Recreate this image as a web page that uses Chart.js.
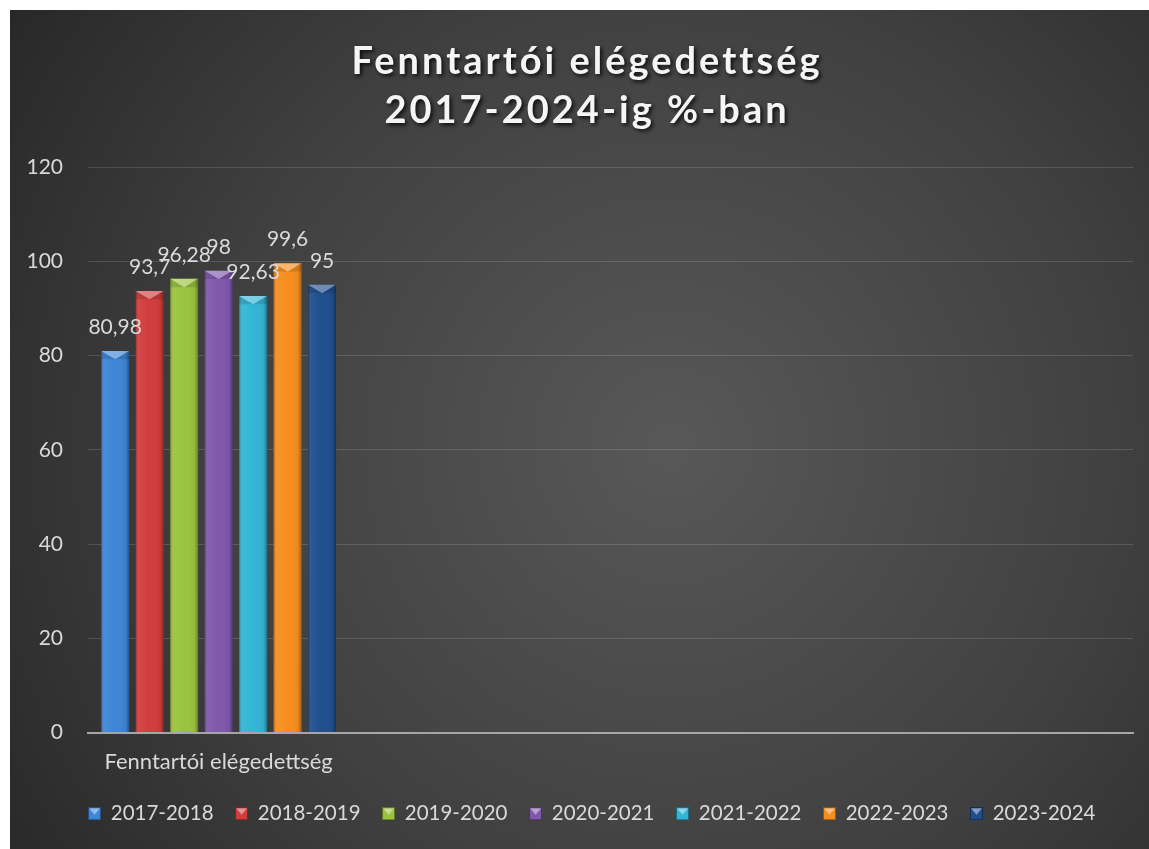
<!DOCTYPE html>
<html>
<head>
<meta charset="utf-8">
<script src="https://cdn.jsdelivr.net/npm/chart.js@4.4.1/dist/chart.umd.min.js"></script>
<style>
  html, body { margin: 0; padding: 0; background: #ffffff; }
  #wrap { position: absolute; left: 10px; top: 10px; width: 1139px; height: 839px; }
</style>
</head>
<body>
<div id="wrap"><canvas id="c"></canvas></div>
<script>
// ---- data ----
const titleLines = ['Fenntartói elégedettség', '2017-2024-ig %-ban'];
const categories = ['Fenntartói elégedettség', '', '', ''];
const seriesNames = ['2017-2018', '2018-2019', '2019-2020', '2020-2021', '2021-2022', '2022-2023', '2023-2024'];
const seriesValues = [80.98, 93.7, 96.28, 98, 92.63, 99.6, 95];
const seriesColors = ['#3d85d6', '#d23c3c', '#9bc33e', '#7f57ac', '#33b5d6', '#f68e1e', '#1f4e8c'];
const yTicks = { min: 0, max: 120, step: 20 };

const FONT = 'Lato, "Open Sans", sans-serif';
const TEXT = '#d9d9d9';

function fmt(v) { return String(v).replace('.', ','); }

function shade(hex, amt) {
  const n = parseInt(hex.slice(1), 16);
  let r = (n >> 16) & 255, g = (n >> 8) & 255, b = n & 255;
  const f = c => Math.max(0, Math.min(255, Math.round(amt < 0 ? c * (1 + amt) : c + (255 - c) * amt)));
  return 'rgb(' + f(r) + ',' + f(g) + ',' + f(b) + ')';
}

function legendIcon(color) {
  const s = 13, cv = document.createElement('canvas');
  cv.width = s; cv.height = s;
  const x = cv.getContext('2d');
  x.fillStyle = shade(color, -0.4); x.fillRect(0, 0, s, s);
  x.fillStyle = color; x.fillRect(1, 1, s - 2, s - 2);
  x.fillStyle = shade(color, 0.45);
  x.beginPath(); x.moveTo(1, 1); x.lineTo(s - 1, 1); x.lineTo(s / 2, s / 2 + 1); x.closePath(); x.fill();
  return cv;
}

const datasets = seriesNames.map((name, i) => ({
  label: name,
  data: [seriesValues[i]],
  backgroundColor: seriesColors[i],
  borderWidth: 0,
  categoryPercentage: 0.924,
  barPercentage: 0.81
}));

const bgPlugin = {
  id: 'bg',
  beforeDraw(chart) {
    const { ctx, width, height } = chart;
    ctx.save();
    const g = ctx.createRadialGradient(width * 0.58, height * 0.52, 0, width * 0.58, height * 0.52, width * 0.72);
    g.addColorStop(0, '#585858');
    g.addColorStop(0.55, '#404040');
    g.addColorStop(1, '#262626');
    ctx.fillStyle = g;
    ctx.fillRect(0, 0, width, height);
    // title
    ctx.font = 'bold 38px ' + FONT;
    ctx.textAlign = 'center';
    ctx.textBaseline = 'middle';
    if ('letterSpacing' in ctx) ctx.letterSpacing = '3px';
    ctx.shadowColor = 'rgba(0,0,0,0.85)';
    ctx.shadowBlur = 4;
    ctx.shadowOffsetX = 2;
    ctx.shadowOffsetY = 2;
    ctx.fillStyle = '#f5f5f5';
    ctx.fillText(titleLines[0], 577, 52);
    ctx.fillText(titleLines[1], 577, 101);
    ctx.restore();
  }
};

const bevelPlugin = {
  id: 'bevel',
  afterDatasetsDraw(chart) {
    const ctx = chart.ctx;
    ctx.save();
    chart.data.datasets.forEach((ds, di) => {
      const meta = chart.getDatasetMeta(di);
      meta.data.forEach(bar => {
        if (bar.skip) return;
        const { x, y, base, width } = bar;
        const l = x - width / 2, r = x + width / 2;
        const g = ctx.createLinearGradient(l, 0, r, 0);
        g.addColorStop(0, 'rgba(0,0,0,0.28)');
        g.addColorStop(0.12, 'rgba(255,255,255,0.06)');
        g.addColorStop(0.5, 'rgba(255,255,255,0)');
        g.addColorStop(0.88, 'rgba(0,0,0,0.05)');
        g.addColorStop(1, 'rgba(0,0,0,0.35)');
        ctx.fillStyle = g;
        ctx.fillRect(l, y, width, base - y);
        const h = width * 0.3;
        ctx.fillStyle = 'rgba(255,255,255,0.35)';
        ctx.beginPath();
        ctx.moveTo(l, y); ctx.lineTo(r, y); ctx.lineTo(x, y + h); ctx.closePath(); ctx.fill();
        ctx.fillStyle = 'rgba(0,0,0,0.12)';
        ctx.beginPath();
        ctx.moveTo(l, y); ctx.lineTo(x, y + h); ctx.lineTo(l, y + h); ctx.closePath(); ctx.fill();
        ctx.beginPath();
        ctx.moveTo(r, y); ctx.lineTo(x, y + h); ctx.lineTo(r, y + h); ctx.closePath(); ctx.fill();
      });
    });
    ctx.restore();
  }
};

const labelPlugin = {
  id: 'vlabels',
  afterDatasetsDraw(chart) {
    const ctx = chart.ctx;
    ctx.save();
    ctx.font = '21px ' + FONT;
    ctx.fillStyle = TEXT;
    ctx.textAlign = 'center';
    ctx.textBaseline = 'bottom';
    chart.data.datasets.forEach((ds, di) => {
      const meta = chart.getDatasetMeta(di);
      meta.data.forEach((bar, i) => {
        const v = ds.data[i];
        if (v == null) return;
        ctx.fillText(fmt(v), bar.x, bar.y - 13);
      });
    });
    ctx.restore();
  }
};

new Chart(document.getElementById('c'), {
  type: 'bar',
  data: { labels: categories, datasets },
  plugins: [bgPlugin, bevelPlugin, labelPlugin],
  options: {
    responsive: true,
    maintainAspectRatio: false,
    devicePixelRatio: 1,
    animation: false,
    layout: { padding: { top: 157, left: 41, right: 16, bottom: 15 } },
    plugins: {
      title: { display: false },
      tooltip: { enabled: false },
      legend: {
        position: 'bottom',
        labels: {
          color: TEXT,
          font: { family: FONT, size: 20.5 },
          usePointStyle: true,
          boxWidth: 12,
          boxHeight: 12,
          padding: 22,
          generateLabels(chart) {
            return chart.data.datasets.map((ds, i) => ({
              text: ds.label,
              fillStyle: seriesColors[i],
              strokeStyle: seriesColors[i],
              lineWidth: 0,
              pointStyle: legendIcon(seriesColors[i]),
              fontColor: TEXT,
              hidden: false,
              datasetIndex: i
            }));
          }
        }
      }
    },
    scales: {
      x: {
        grid: { display: false, drawTicks: false },
        border: { display: true, color: '#a6a6a6', width: 2 },
        ticks: { color: TEXT, font: { family: FONT, size: 22 }, padding: 16, maxRotation: 0, autoSkip: false },
        afterFit(scale) { scale.height = 49; }
      },
      y: {
        min: yTicks.min,
        max: yTicks.max,
        grid: { color: 'rgba(255,255,255,0.14)', lineWidth: 1, drawTicks: false },
        border: { display: false },
        ticks: { stepSize: yTicks.step, color: TEXT, font: { family: FONT, size: 21 }, padding: 25 },
        afterFit(scale) {
          scale.width = 37;
          scale._computeLabelArea = () => undefined;
        }
      }
    }
  }
});
</script>
</body>
</html>
